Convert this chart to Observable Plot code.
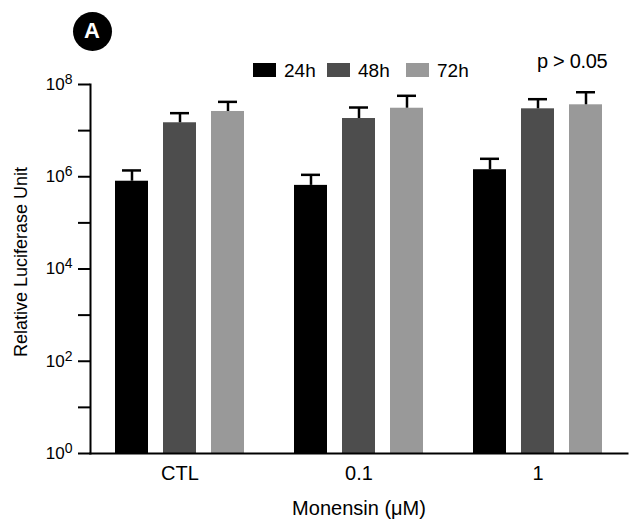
<!DOCTYPE html>
<html>
<head>
<meta charset="utf-8">
<script src="https://cdn.jsdelivr.net/npm/d3@7"></script>
<script src="https://cdn.jsdelivr.net/npm/@observablehq/plot@0.6"></script>
<style>
  body { margin: 0; background: #fff; }
  #wrap { position: relative; width: 641px; height: 524px; font-family: "Liberation Sans", Arial, sans-serif; }
  #wrap svg { position: absolute; left: 0; top: 0; }
  .abs { position: absolute; white-space: nowrap; }
</style>
</head>
<body>
<div id="wrap"></div>
<script>
// ---- data ----
const doses = ["CTL", "0.1", "1"];
const times = ["24h", "48h", "72h"];
const colors = ["#000000", "#4d4d4d", "#999999"];
const mean24 = [8.0e5, 6.5e5, 1.42e6];
const mean48 = [1.48e7, 1.83e7, 2.97e7];
const mean72 = [2.6e7, 3.06e7, 3.63e7];
const upper24 = [1.37e6, 1.1e6, 2.45e6];
const upper48 = [2.39e7, 3.17e7, 4.8e7];
const upper72 = [4.2e7, 5.69e7, 6.8e7];
const yTicks = [1, 1e1, 1e2, 1e3, 1e4, 1e5, 1e6, 1e7, 1e8];
const xLabel = "Monensin (μM)";
const yLabel = "Relative Luciferase Unit";
const pText = "p > 0.05";
const panel = "A";

const means = [mean24, mean48, mean72];
const uppers = [upper24, upper48, upper72];
const rows = [];
doses.forEach((d, i) => times.forEach((t, j) => rows.push({dose: d, time: t, value: means[j][i], upper: uppers[j][i]})));

const chart = Plot.plot({
  width: 641,
  height: 524,
  marginLeft: 90,
  marginRight: 0,
  marginTop: 84,
  marginBottom: 71,
  style: {fontFamily: '"Liberation Sans", Arial, sans-serif', fontSize: "18px", color: "black", background: "white"},
  fx: {domain: doses, paddingInner: 0, paddingOuter: 0.0348, align: 0, axis: null, label: null},
  x: {domain: times, paddingInner: 0.32, paddingOuter: 0.5, axis: null},
  y: {type: "log", domain: [1, 1e8], axis: null},
  color: {domain: times, range: colors},
  marks: [
    Plot.barY(rows, {fx: "dose", x: "time", y1: 1, y2: "value", fill: "time"}),
    Plot.ruleX(rows, {fx: "dose", x: "time", y1: "value", y2: "upper", stroke: "black", strokeWidth: 2.5}),
    Plot.tickY(rows, {fx: "dose", x: "time", y: "upper", stroke: "black", strokeWidth: 2.5, insetLeft: 7, insetRight: 7}),
    Plot.axisY({ticks: yTicks, tickSize: 12, tickPadding: 6, strokeWidth: 2, fontSize: 17, label: null,
      tickFormat: d => { const e = Math.round(Math.log10(d)); return e % 2 === 0 ? `10^${e}` : ""; }}),
    Plot.axisFx({anchor: "bottom", tickSize: 0, tickPadding: 12, fontSize: 20, label: null}),
    Plot.frame({anchor: "left", facet: "super", stroke: "black", strokeWidth: 2}),
    Plot.frame({anchor: "bottom", facet: "super", stroke: "black", strokeWidth: 2}),
    Plot.text([xLabel], {facet: "super", frameAnchor: "bottom", textAnchor: "middle", lineAnchor: "bottom", dy: 61, fontSize: 20, text: d => d}),
    Plot.text([yLabel], {facet: "super", frameAnchor: "left", textAnchor: "middle", lineAnchor: "middle", rotate: -90, dx: -69, dy: -7, fontSize: 18, text: d => d})
  ]
});

// superscript exponents on y tick labels
chart.querySelectorAll('g[aria-label="y-axis tick label"] text').forEach(t => {
  const s = t.textContent;
  if (s.includes("^")) {
    const [b, e] = s.split("^");
    t.textContent = b;
    const ts = document.createElementNS("http://www.w3.org/2000/svg", "tspan");
    ts.setAttribute("dy", "-6");
    ts.setAttribute("font-size", "14");
    ts.textContent = e;
    t.appendChild(ts);
  }
});

const wrap = document.getElementById("wrap");
wrap.appendChild(chart);

// panel badge
const badge = document.createElement("div");
badge.className = "abs";
badge.textContent = panel;
Object.assign(badge.style, {left: "72.5px", top: "11.5px", width: "39px", height: "39px", borderRadius: "50%",
  background: "#000", color: "#fff", fontWeight: "bold", fontSize: "22px", display: "flex",
  alignItems: "center", justifyContent: "center"});
wrap.appendChild(badge);

// legend
const legendX = [253, 327, 406];
times.forEach((t, i) => {
  const sw = document.createElement("div");
  sw.className = "abs";
  Object.assign(sw.style, {left: legendX[i] + "px", top: "63.3px", width: "23px", height: "14px", background: colors[i]});
  wrap.appendChild(sw);
  const lab = document.createElement("div");
  lab.className = "abs";
  lab.textContent = t;
  Object.assign(lab.style, {left: (legendX[i] + 31) + "px", top: "61.2px", fontSize: "19px", lineHeight: "19px"});
  wrap.appendChild(lab);
});

// significance note
const p = document.createElement("div");
p.className = "abs";
p.textContent = pText;
Object.assign(p.style, {left: "537px", top: "51.4px", fontSize: "20px", lineHeight: "20px", letterSpacing: "-0.3px"});
wrap.appendChild(p);
</script>
</body>
</html>
